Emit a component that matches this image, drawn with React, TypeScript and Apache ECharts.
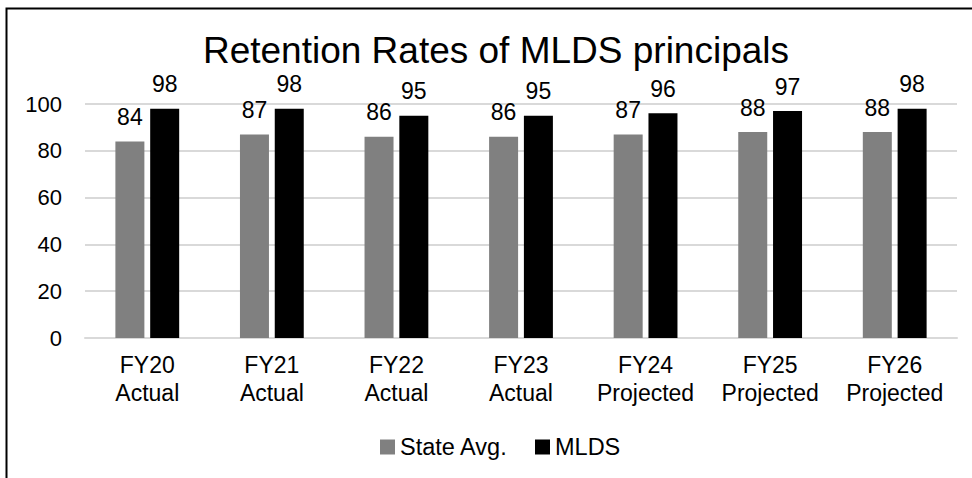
import React, { useEffect, useRef } from "react";
import * as echarts from "echarts";

const categories = [
  "FY20\nActual",
  "FY21\nActual",
  "FY22\nActual",
  "FY23\nActual",
  "FY24\nProjected",
  "FY25\nProjected",
  "FY26\nProjected",
];
const stateAvg = [84, 87, 86, 86, 87, 88, 88];
const mlds = [98, 98, 95, 95, 96, 97, 98];
const seriesNames = ["State Avg.", "MLDS"];

const FONT = "'Liberation Sans', Arial, sans-serif";

export default function App() {
  const ref = useRef<HTMLDivElement>(null);
  useEffect(() => {
    if (!ref.current) return;
    const chart = echarts.init(ref.current, null, { renderer: "svg" });
    const label = {
      show: true,
      position: "top" as const,
      distance: 13,
      color: "#000",
      fontSize: 23,
      fontFamily: FONT,
    };
    chart.setOption({
      animation: false,
      backgroundColor: "#fff",
      textStyle: { fontFamily: FONT },
      title: {
        text: "Retention Rates of MLDS principals",
        left: 491,
        textAlign: "center",
        top: 27,
        textStyle: { fontSize: 37, fontWeight: "normal", color: "#000", fontFamily: FONT },
      },
      graphic: [
        {
          type: "rect",
          shape: { x: 6.5, y: 8.5, width: 2000, height: 2000 },
          style: { fill: "none", stroke: "#000", lineWidth: 2 },
          silent: true,
        },
      ],
      legend: {
        data: seriesNames,
        top: 430,
        left: 375,
        itemWidth: 15,
        itemHeight: 15,
        itemGap: 27,
        icon: "rect",
        textStyle: { fontSize: 23.5, color: "#000", fontFamily: FONT },
      },
      grid: { left: 85, right: 15, top: 104, bottom: 140 },
      xAxis: {
        type: "category",
        data: categories,
        axisLine: { show: true, lineStyle: { color: "#d9d9d9", width: 2 } },
        axisTick: { show: false },
        axisLabel: {
          color: "#000",
          fontSize: 23,
          lineHeight: 28,
          margin: 13,
          interval: 0,
          fontFamily: FONT,
        },
      },
      yAxis: {
        type: "value",
        min: 0,
        max: 100,
        interval: 20,
        axisLine: { show: false },
        axisTick: { show: false },
        splitLine: { lineStyle: { color: "#d9d9d9", width: 2 } },
        axisLabel: { color: "#000", fontSize: 22, margin: 23, fontFamily: FONT },
      },
      series: [
        {
          name: seriesNames[0],
          type: "bar",
          data: stateAvg,
          barWidth: 29,
          barGap: "20%",
          itemStyle: { color: "#808080" },
          label,
        },
        {
          name: seriesNames[1],
          type: "bar",
          data: mlds,
          barWidth: 29,
          itemStyle: { color: "#000000" },
          label,
        },
      ],
    });
    return () => chart.dispose();
  }, []);
  return (
    <div
      ref={ref}
      style={{ position: "absolute", left: 0, top: 0, width: 972, height: 478 }}
    />
  );
}
